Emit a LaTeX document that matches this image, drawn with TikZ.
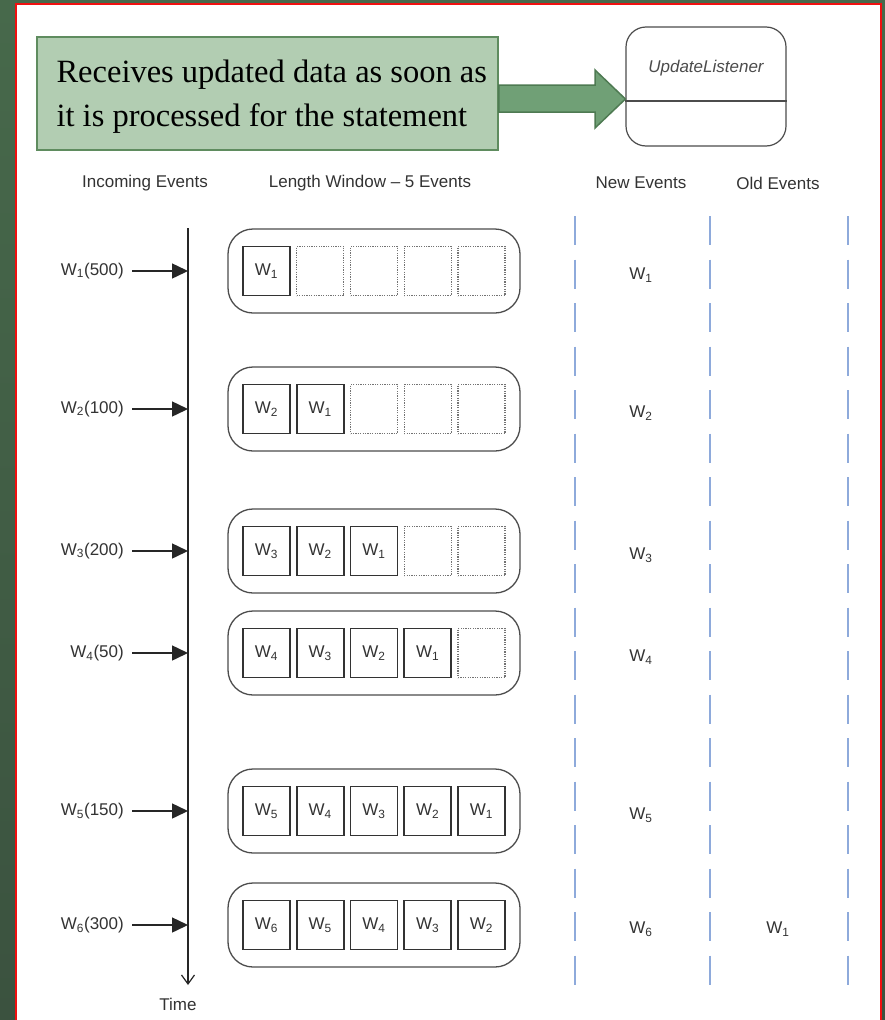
\documentclass[tikz,border=0pt]{standalone}
\usepackage{fontspec}
\setmainfont{Liberation Serif}
\setsansfont{Liberation Sans}
\usetikzlibrary{arrows.meta,positioning}

\definecolor{slidetop}{HTML}{47694B}
\definecolor{slidebot}{HTML}{3B523F}
\definecolor{framered}{HTML}{F01010}
\definecolor{notefill}{HTML}{B2CDB2}
\definecolor{notedge}{HTML}{5F8C5F}
\definecolor{arrowfill}{HTML}{70A076}
\definecolor{arrowedge}{HTML}{4E7A52}
\definecolor{laneblue}{HTML}{8EAADB}
\definecolor{inkgray}{HTML}{333333}

\begin{document}
\begin{tikzpicture}[
    x=1pt, y=-1pt,
    font=\sffamily\fontsize{17}{20}\selectfont,
    note/.style={draw=notedge, line width=1.5pt, fill=notefill, minimum width=461pt, minimum height=113pt, inner sep=0pt},
    fatarrow/.style={draw=arrowedge, line width=1.5pt, fill=arrowfill},
    listener/.style={draw=black!70, line width=1.2pt, rounded corners=20pt, minimum width=160pt, minimum height=119pt},
    header/.style={text=inkgray},
    window/.style={draw=black!70, line width=1.3pt, rounded corners=25pt, minimum width=292pt, minimum height=84pt},
    slot/.style={draw=black!80, line width=1.8pt, minimum width=47pt, minimum height=49pt, inner sep=0pt, text=inkgray},
    emptyslot/.style={draw=black!55, line width=1.1pt, dash pattern=on 1.2pt off 1.2pt, minimum width=47pt, minimum height=49pt, inner sep=0pt},
    evlabel/.style={text=inkgray, inner sep=0pt},
    evtext/.style={text=inkgray},
    incoming/.style={-{Triangle[length=16pt, width=15pt]}, line width=1.5pt, black!85},
    timeline/.style={-{Straight Barb[length=9pt, width=13pt]}, line width=1.2pt, black!85},
    lane/.style={laneblue, line width=1.8pt, dash pattern=on 29pt off 14.5pt}
]
\clip (0,0) rectangle (885,1020);

% Slide background and frame
\fill[top color=slidetop, bottom color=slidebot] (0,0) rectangle (885,1020);
\draw[framered, line width=1.8pt, fill=white] (16,4.2) rectangle (881,1030);

% Note and listener
\node[note] (note) at (267.5,93.5) {};
\node[anchor=west, align=left, font=\rmfamily\fontsize{32.5}{44}\selectfont] (notetext) at (53,97) {Receives updated data as soon as\\it is processed for the statement};
\node[listener] (listener) at (706,86.5) {};
\node[font=\sffamily\itshape\fontsize{17}{20}\selectfont, text=black!70] (listenername) at (706,68) {UpdateListener};
\draw[black!70, line width=1.2pt] (listener.west |- 0,101) -- (listener.east |- 0,101);

% Block arrow from note to listener
\draw[fatarrow] (note.east |- 0,85) -- (595,85) -- (595,70) -- (listener.west |- 0,99)
    -- (595,128) -- (595,112) -- (note.east |- 0,112) -- cycle;

% Column headers
\node[header] (hin) at (145,183) {Incoming Events};
\node[header] (hwin) at (370,183) {Length Window -- 5 Events};
\node[header] (hnew) at (641,183) {New Events};
\node[header] (hold) at (778,183) {Old Events};

% Time axis
\coordinate (axtop) at (188,228);
\coordinate (axbot) at (188,985);
\draw[timeline] (axtop) -- (axbot);
\node[evtext] (time) at (178,1004) {Time};

% Event lanes
\foreach \x in {575,710,848}
    \draw[lane] (\x,216) -- (\x,986);

% Window rows
\foreach \yy/\val [count=\r] in {271/500,409/100,551/200,653/50,811/150,925/300} {
    \node[window] (win\r) at (374,\yy) {};
    \foreach \k in {1,...,5} {
        \pgfmathtruncatemacro\idx{\r-\k+1}
        \ifnum\idx>0
            \node[slot] (slot\r-\k) at ({266.5+53.75*(\k-1)},\yy) {W\textsubscript{\idx}};
        \else
            \node[emptyslot] (slot\r-\k) at ({266.5+53.75*(\k-1)},\yy) {};
        \fi
    }
    \node[evlabel, anchor=east] (in\r) at (124,\yy) {W\textsubscript{\r}(\val)};
    \draw[incoming] ([xshift=8pt]in\r.east) -- (in\r.east -| axtop);
    \node[evtext] (new\r) at (641,\yy+4) {W\textsubscript{\r}};
}

% Expired event
\node[evtext] (old6) at (778,929) {W\textsubscript{1}};

\end{tikzpicture}
\end{document}
